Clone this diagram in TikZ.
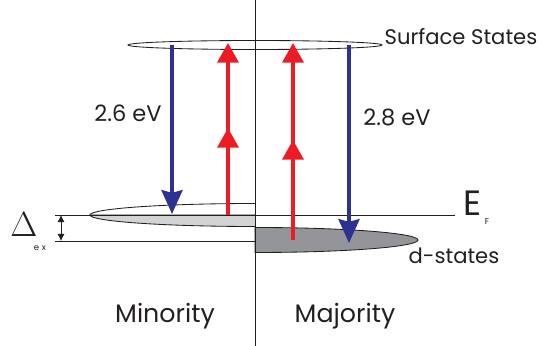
\documentclass[tikz,border=0pt]{standalone}
\usepackage{fontspec}
\setmainfont{Poppins}
\usetikzlibrary{arrows.meta}
\definecolor{emisblue}{RGB}{46, 49, 146}
\definecolor{absred}{RGB}{237, 28, 36}
\definecolor{minogray}{RGB}{209, 211, 212}
\definecolor{majogray}{RGB}{147, 149, 152}
\definecolor{inkgray}{RGB}{35, 31, 32}

\begin{document}
\begin{tikzpicture}[
    x=0.025cm, y=0.025cm,
    level/.style={line width=0.6pt, draw=inkgray},
    emis/.style={-{Stealth[length=17pt, width=15pt, inset=2pt]}, line width=2.4pt, emisblue},
    absn/.style={-{Triangle[length=14pt, width=15pt]}, line width=2.5pt, absred},
    gap/.style={{Latex[length=5pt, width=5pt]}-{Latex[length=5pt, width=5pt]}, line width=0.6pt, inkgray},
    lbl/.style={text=inkgray, inner sep=0pt}
]
\useasboundingbox (0,0) rectangle (554,-346);

% Surface states
\draw[level] (255,-45) ellipse [x radius=127, y radius=4.5];
\node[lbl, font=\fontsize{15}{18}\selectfont] (surf) at (461,-37) {Surface States};

% Minority band (below E_F filled)
\draw[level, fill=minogray] (255,-215) -- (90,-215) arc [start angle=180, end angle=270, x radius=165, y radius=11.5];
\draw[level] (90,-215) arc [start angle=180, end angle=90, x radius=165, y radius=11.5];

% Majority d-states
\draw[level, fill=majogray] (255,-227.5) arc [start angle=90, end angle=-90, x radius=163, y radius=12.5] -- cycle;

% Levels
\draw[level] (55,-215) -- (455,-215);
\draw[level] (55,-241) -- (255,-241);
\draw[level] (255,0) -- (255,-346);

% Arrow end points
\coordinate (b1top) at (172,-45);
\coordinate (b1bot) at (172,-214);
\coordinate (b2top) at (349,-45);
\coordinate (b2bot) at (349,-243);
\coordinate (r1bot) at (228,-215);
\coordinate (r1mid) at (228,-128);
\coordinate (r1top) at (228,-43);
\coordinate (r2bot) at (293,-240);
\coordinate (r2mid) at (293,-140);
\coordinate (r2top) at (293,-43);
\coordinate (gtop) at (61,-215);
\coordinate (gbot) at (61,-241);

% Transitions
\draw[emis] (b1top) -- (b1bot);
\draw[emis] (b2top) -- (b2bot);
\draw[absn] (r1bot) -- (r1top);
\draw[absn] (r1bot) -- (r1mid);
\draw[absn] (r2bot) -- (r2top);
\draw[absn] (r2bot) -- (r2mid);
\draw[gap] (gtop) -- (gbot);

% Labels
\node[lbl, font=\fontsize{16}{19}\selectfont] (ev1) at (128,-113) {2.6 eV};
\node[lbl, font=\fontsize{16}{19}\selectfont] (ev2) at (397,-117) {2.8 eV};
\node[lbl, font=\fontsize{25}{30}\selectfont] (ef) at (473,-203) {E};
\node[lbl, font=\fontsize{6}{7}\selectfont] (efsub) at (487,-222) {F};
\node[lbl, font=\fontsize{15}{18}\selectfont] (dst) at (454,-256) {d-states};
\node[lbl, anchor=base, font=\fontsize{23}{27}\selectfont] (dlt) at (24,-237) {$\Delta$};
\node[lbl, font=\fontsize{6}{7}\selectfont] (dltsub) at (40,-248) {e\,\,x};
\node[lbl, font=\fontsize{18}{22}\selectfont] (mino) at (165,-316) {Minority};
\node[lbl, font=\fontsize{18}{22}\selectfont] (majo) at (345,-316) {Majority};

\end{tikzpicture}
\end{document}
